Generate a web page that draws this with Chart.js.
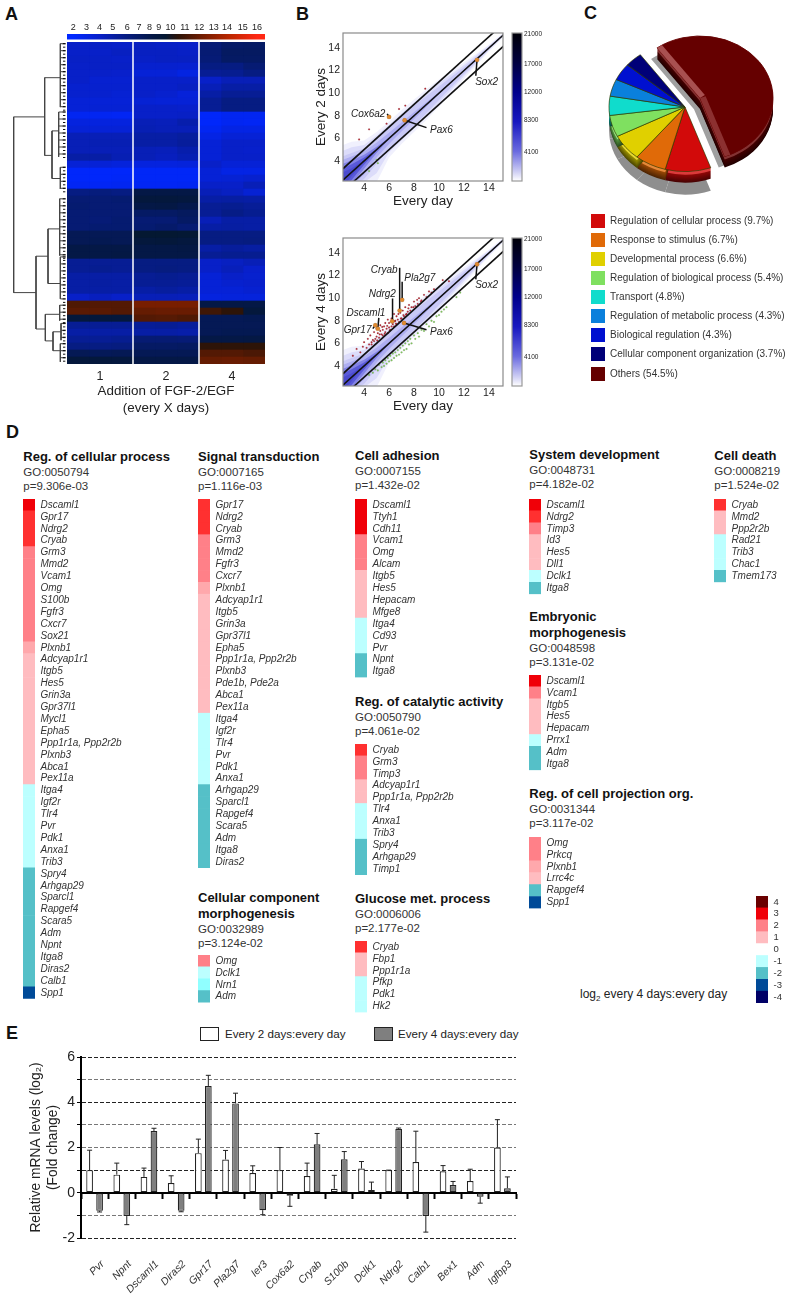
<!DOCTYPE html>
<html><head><meta charset="utf-8">
<script src="https://cdn.jsdelivr.net/npm/chart.js@4"></script>
<style>
html,body{margin:0;padding:0;background:#fff}
#page{position:relative;width:791px;height:1294px;overflow:hidden;font-family:"Liberation Sans",Arial,sans-serif;color:#222}
#page canvas{position:absolute;display:block}
.t{position:absolute;white-space:nowrap;line-height:16px}
.sw{position:absolute;box-sizing:border-box}
</style></head><body><div id="page"></div>
<script>
/* ---------- Panel A: heat map (log2 expression), rows x replicate columns ---------- */
const heatRows=[
[4,4.1,4,4.2,4.1,4,6.4,6.9,7],[4,4,4.2,4.2,4.2,4.1,6.5,7.1,7.1],[4.1,4.1,4,4.1,4.2,4.2,6.4,7,7],
[4,4.1,4.1,3.8,3.8,3.7,6,6,6.5],[4,4,3.9,3.5,3.5,3.1,5.5,5.6,6],[4,3.7,3.7,4,4,4,4,4.5,4.5],
[3.8,3.8,3.8,4,4,4.2,4.5,5,5],[3.8,3.8,3.6,4,3.8,3.4,5,5.5,5.5],[3.5,3.5,3.5,3.6,3.5,3.5,5.5,6,6],
[3.5,3.6,3.6,4,4,3.9,5.5,6,6],[2.5,2.5,2.4,4,4,4.1,2.2,2.5,2.5],[3.2,3.2,3.2,4.5,4.4,4.8,2.2,2.5,2.4],
[3.5,3.5,3.5,4.6,4.5,4.5,2.5,3,3],[4.5,4.5,4.5,5,5,5.2,3,3.5,3.5],[4.5,4.6,4.6,5,5,5.3,3.5,4,4],
[4.5,4.5,4.5,4.5,4.4,4.8,3.5,4,3.9],[5,5,4.6,4.5,4.3,4.6,3.5,4,4],[3.5,3.5,3.3,3.2,3.2,3.3,4,3.5,3.5],
[2.2,2.2,2.2,2.3,2.3,2.3,3.5,3,3],[2.2,2.2,2.3,2.3,2.3,2.3,3.5,3.6,3.8],[2.4,2.4,2.5,2.4,2.4,2.5,4,4,4.5],
[6,6.2,6,8,8,8,4.5,4.2,3.6],[6.5,6.5,6.6,8.5,8.5,8.4,5,5.1,5],[6.6,6.5,6.5,8,8.1,7.8,5.5,5.6,5.4],
[6.5,6.5,6.5,7,7,7.2,5.5,5.9,5.6],[6.5,6.4,6.6,6.5,6.5,7,4.5,5,5],[6.5,6.6,6.6,6.6,6.8,6.5,5,5.1,5],
[7.5,7.5,7.5,9,9,8.9,6,6,6],[7.5,7.6,7.5,8.5,8.6,8.4,6,6,6.1],[8,8,8,8,8,8.1,5,5.3,5.1],
[8,8,8.1,8,8,8,5.5,5.6,5.6],[5.5,5.5,5.5,6,6,6,4,4.2,4.5],[5.5,5.6,5.5,6,6.1,6,4,4.4,3.9],
[5,5,5,5.5,5.6,5.5,3.5,4,3.8],[5,5.1,5,5.5,5.5,5.4,3.5,3.8,3.9],[5,5,5,5,5.2,5,3.5,3.5,3.7],
[4,4.3,4,4.5,4.5,4.4,3.2,3.3,3.3],[10.9,11,11,12,12,12,8,8,8],[11.2,11.2,11,11.5,11.6,11.6,10.5,10,8.5],
[8.5,8.5,8.5,11,11.1,10.9,7.5,7.5,7.6],[5.5,5.5,5.5,5.4,5.5,5.3,7.5,7.5,7.5],[5,5,5,5,5,4.9,7.5,7.6,7.6],
[5.5,5.5,5.6,6.5,6.5,6.4,8,8,8.1],[6,6,6.1,7,7,7.1,10,10,10],[7.5,7.4,7.5,7.5,7.5,7.5,11,11,10.8],
[8.5,8.5,8.4,8,8,8,11.5,11.6,11.5]];
const columnTicks=[1.5,4.5,7.5];
const columnNames=['1','2','4'];
const barTickPositions=[2,3,4,5,6.1,7,7.8,8.5,9.4,10.5,11.6,12.7,13.7,14.9,16];
const barTickLabels=['2','3','4','5','6','7','8','9','10','11','12','13','14','15','16'];
/* dendrogram: [height, rowFrom, rowTo] verticals, and [fromHeight, row, toHeight] horizontals */
const treeV=[[160,10.7,35.8],[67,5.1,16.2],[20,.24,9.3],[45,12.7,19.5],[25,10,16.4],[20,17.9,21],[93,30.6,41],[57,26.7,34.5],[22,22.4,30.5],[20,30.7,36.7],[65,38.9,42.7],[22,37.6,39.8],[42,41.4,44.1],[18,40.2,42.6],[20,43.1,45.7]];
const treeH=[[160,10.7,67],[160,35.8,93],[67,5.1,20],[67,16.2,45],[45,12.7,25],[45,19.5,20],[93,30.6,57],[93,41,65],[57,26.7,22],[57,34.5,20],[65,38.9,22],[65,42.7,42],[42,41.4,18],[42,44.1,20]];
const leafClusters=[[20,.24,9.3],[25,10,16.4],[20,17.9,21],[22,22.4,30.5],[20,30.7,36.7],[22,37.6,39.8],[18,40.2,42.6],[20,43.1,45.7]];

/* ---------- Panel B: density bands and scatter ---------- */
const bandX=[2.3,3,4,5,6,7,8,9,10,11,12,13,14,15.2];
const bandLevels=[
 {c:'rgba(150,150,240,.14)',up:[3.1,2.7,1.8,1.55,1.5,1.5,1.45,1.35,1.2,1,.75,.5,.3,.2],dn:[1,1.2,2,2.9,1.7,1.5,1.45,1.35,1.2,1,.75,.5,.3,.2]},
 {c:'rgba(130,130,235,.18)',up:[2.6,2.2,1.4,1.25,1.2,1.2,1.15,1.05,.9,.7,.5,.35,.2,.1],dn:[1,1.2,1.9,2.1,1.25,1.2,1.15,1.05,.9,.7,.5,.35,.2,.1]},
 {c:'rgba(110,110,230,.2)',up:[2.1,1.7,1.1,1,.95,.95,.9,.75,.6,.45,.3,.2,.1,.05],dn:[1,1.2,1.6,1.25,1,.95,.9,.75,.6,.45,.3,.2,.1,.05]},
 {c:'rgba(70,70,220,.25)',up:[1.8,1.4,.85,.6,.5,.4,.3,.2,.1,.05,.02,.02,.02,.02],dn:[1,1.2,1.2,.7,.5,.4,.3,.2,.1,.05,.02,.02,.02,.02]},
 {c:'rgba(30,30,200,.45)',up:[1.45,1.05,.55,.25,.05,.02,.02,.02,.02,.02,.02,.02,.02,.02],dn:[1,1.05,.7,.3,.05,.02,.02,.02,.02,.02,.02,.02,.02,.02]},
 {c:'rgba(0,0,170,.7)',up:[1.05,.7,.3,.05,.02,.02,.02,.02,.02,.02,.02,.02,.02,.02],dn:[.9,.7,.35,.05,.02,.02,.02,.02,.02,.02,.02,.02,.02,.02]},
 {c:'rgba(0,0,110,.8)',up:[.7,.35,.05,.02,.02,.02,.02,.02,.02,.02,.02,.02,.02,.02],dn:[.6,.35,.05,.02,.02,.02,.02,.02,.02,.02,.02,.02,.02,.02]}
];
const guideOffsets=[1,0,-1];
const axisTicksB=[4,6,8,10,12,14];
const red2=[[4.4,6.8],[3.6,5.9],[5.8,7.3],[6.8,8.6],[8.9,10.4],[7.3,8.9]];
const green2=[[5,4.1],[4.4,3.1],[5.1,3.8]];
const red4=[[3.1,4.9],[3.4,5.5],[3.7,5.2],[3.9,5.7],[4,6.1],[4.2,5.6],[4.3,6.4],[4.4,5.9],[4.5,6.7],[4.6,6.1],[4.7,6.3],[4.8,7],[4.9,6.4],[5,6.6],[5,7.3],[5.1,6.9],[5.2,6.5],[5.3,7.1],[5.3,7.6],[5.4,6.8],[5.5,7.2],[5.5,6.7],[5.6,7.5],[5.7,7],[5.7,7.8],[5.8,7.3],[5.9,6.9],[5.9,8.1],[6,7.4],[6,7.8],[6.1,7.2],[6.2,8.2],[6.2,7.5],[6.3,7.7],[6.4,8.6],[6.4,7.5],[6.5,8],[6.6,7.7],[6.6,8.4],[6.7,8.1],[6.8,7.9],[6.9,8.7],[7,8.2],[7.1,8.9],[7.2,8.4],[7.3,9.2],[7.4,8.6],[7.5,8.8],[7.6,9.4],[7.7,8.9],[7.8,9.2],[8,9.7],[8.1,9.3],[8.3,9.5],[8.4,10],[8.6,9.8],[8.8,10.3],[9,10.1],[9.2,10.6],[9.4,10.5],[9.6,10.8],[10.3,11.6],[10.8,11.5],[4.6,5.9],[4.8,6.2],[5.05,6.25],[5.25,6.8],[5.45,7.45],[5.65,6.85],[5.85,7.55],[6.05,7.15],[6.25,7.85],[6.45,7.95],[6.55,7.75],[6.75,8.6],[6.95,8.2],[7.15,8.5],[7.35,8.55],[7.55,9.1],[7.95,9.2],[8.25,9.85],[8.55,9.7]];
const green4=[[4.4,3.2],[4.7,3.4],[4.9,3.7],[5.1,3.6],[5.2,4.1],[5.4,3.9],[5.5,4.3],[5.6,4],[5.7,4.5],[5.8,4.2],[5.9,4.7],[6,4.4],[6.1,4.9],[6.2,4.5],[6.3,5.1],[6.4,4.7],[6.5,5.2],[6.6,4.9],[6.7,5.4],[6.8,5],[6.9,5.6],[7,5.2],[7.1,5.8],[7.2,5.4],[7.3,6],[7.4,5.5],[7.5,6.2],[7.6,5.9],[7.7,6.4],[7.8,6],[8,6.7],[8.1,6.4],[8.3,6.9],[8.4,6.6],[8.6,7.2],[8.8,7.1],[9,7.7],[9.2,7.5],[9.4,8],[9.6,7.9],[9.8,8.4],[10,8.5],[10.2,8.8],[10.4,9],[10.6,9.2],[11.4,10.1],[11.7,10.5]];
const hiPoints2=[[6,7.9],[7.25,7.6],[13.05,12.95]];
const hiPoints4=[[4.9,7.6],[5.1,7.3],[6.25,7.95],[6.85,8.9],[7.05,9.85],[7.2,7.8],[13.05,13]];
const leaders2=[[[6,7.9],[5.85,8.17]],[[7.25,7.6],[9,6.95]],[[13.05,12.95],[12.95,11.54]]];
const leaders4=[[[5.1,7.3],[5.18,8.25]],[[4.9,7.6],[4.7,7.3]],[[6.25,7.95],[6.28,9.97]],[[6.85,8.9],[6.85,12.69]],[[7.05,9.85],[7.05,11.45]],[[7.2,7.8],[9,7.2]],[[13.05,13],[12.95,11.66]]];
const labels2=[['Cox6a2',5.71,8.17,'right'],['Pax6',9.28,6.75,'left'],['Sox2',12.9,10.95,'left']];
const labels4=[['Cryab',6.68,12.49,'right'],['Pla2g7',7.22,11.75,'left'],['Ndrg2',6.55,10.39,'right'],['Dscaml1',5.71,8.67,'right'],['Gpr17',4.59,7.16,'right'],['Pax6',9.28,7,'left'],['Sox2',12.9,11.15,'left']];
const colorbarTickLevels=[.197,.411,.599,.79,.989];
const colorbarTickNames=['4100','8300','12000','17000','21000'];

/* ---------- Panel C: pie ---------- */
const pieNames=['Regulation of cellular process','Response to stimulus','Developmental process','Regulation of biological process','Transport','Regulation of metabolic process','Biological regulation','Cellular component organization','Others'];
const pieShares=[9.7,6.7,6.6,5.4,4.8,4.3,4.3,3.7,54.5];
const pieColors=['#d20a0a','#e06a08','#e0d000','#7fe060','#10dccc','#0a80dc','#0010d0','#000078','#650000'];

/* ---------- Panel D: gene lists and log2 ratio levels ---------- */
const goLists=[
 {title:['Reg. of cellular process'],go:'GO:0050794',p:'p=9.306e-03',x:23.3,gy:498.5,ty:457,
  genes:['Dscaml1','Gpr17','Ndrg2','Cryab','Grm3','Mmd2','Vcam1','Omg','S100b','Fgfr3','Cxcr7','Sox21','Plxnb1','Adcyap1r1','Itgb5','Hes5','Grin3a','Gpr37l1','Mycl1','Epha5','Ppp1r1a, Ppp2r2b','Plxnb3','Abca1','Pex11a','Itga4','Igf2r','Tlr4','Pvr','Pdk1','Anxa1','Trib3','Spry4','Arhgap29','Sparcl1','Rapgef4','Scara5','Adm','Npnt','Itga8','Diras2','Calb1','Spp1'],
  levels:[3,2.5,2.5,2.5,2,2,2,2,2,2,2,2,1.5,1,1,1,1,1,1,1,1,1,1,1,-1,-1,-1,-1,-1,-1,-1,-2,-2,-2,-2,-2,-2,-2,-2,-2,-2,-3]},
 {title:['Signal transduction'],go:'GO:0007165',p:'p=1.116e-03',x:198,gy:498.5,ty:457,
  genes:['Gpr17','Ndrg2','Cryab','Grm3','Mmd2','Fgfr3','Cxcr7','Plxnb1','Adcyap1r1','Itgb5','Grin3a','Gpr37l1','Epha5','Ppp1r1a, Ppp2r2b','Plxnb3','Pde1b, Pde2a','Abca1','Pex11a','Itga4','Igf2r','Tlr4','Pvr','Pdk1','Anxa1','Arhgap29','Sparcl1','Rapgef4','Scara5','Adm','Itga8','Diras2'],
  levels:[2.5,2.5,2.5,2,2,2,2,1.5,1,1,1,1,1,1,1,1,1,1,-1,-1,-1,-1,-1,-1,-2,-2,-2,-2,-2,-2,-2]},
 {title:['Cellular component','morphogenesis'],go:'GO:0032989',p:'p=3.124e-02',x:198,gy:955,ty:898,
  genes:['Omg','Dclk1','Nrn1','Adm'],levels:[2,-1,-1.5,-2]},
 {title:['Cell adhesion'],go:'GO:0007155',p:'p=1.432e-02',x:355,gy:498.7,ty:456,
  genes:['Dscaml1','Ttyh1','Cdh11','Vcam1','Omg','Alcam','Itgb5','Hes5','Hepacam','Mfge8','Itga4','Cd93','Pvr','Npnt','Itga8'],
  levels:[3,3,3,2,2,2,1,1,1,1,-1,-1,-1,-2,-2]},
 {title:['Reg. of catalytic activity'],go:'GO:0050790',p:'p=4.061e-02',x:355,gy:743.7,ty:702,
  genes:['Cryab','Grm3','Timp3','Adcyap1r1','Ppp1r1a, Ppp2r2b','Tlr4','Anxa1','Trib3','Spry4','Arhgap29','Timp1'],
  levels:[2.5,2,2,1,1,-1,-1,-1,-2,-2,-2]},
 {title:['Glucose met. process'],go:'GO:0006006',p:'p=2.177e-02',x:355,gy:941,ty:899,
  genes:['Cryab','Fbp1','Ppp1r1a','Pfkp','Pdk1','Hk2'],levels:[2.5,1,1,-1,-1,-1]},
 {title:['System development'],go:'GO:0048731',p:'p=4.182e-02',x:529.3,gy:498.7,ty:455,
  genes:['Dscaml1','Ndrg2','Timp3','Id3','Hes5','Dll1','Dclk1','Itga8'],levels:[3,2.5,2,1,1,1,-1,-2]},
 {title:['Embryonic','morphogenesis'],go:'GO:0048598',p:'p=3.131e-02',x:529.3,gy:674.7,ty:617,
  genes:['Dscaml1','Vcam1','Itgb5','Hes5','Hepacam','Prrx1','Adm','Itga8'],levels:[3,2,1,1,1,-1,-2,-2]},
 {title:['Reg. of cell projection org.'],go:'GO:0031344',p:'p=3.117e-02',x:529.3,gy:836.7,ty:794,
  genes:['Omg','Prkcq','Plxnb1','Lrrc4c','Rapgef4','Spp1'],levels:[2,2,1.5,1,-2,-3]},
 {title:['Cell death'],go:'GO:0008219',p:'p=1.524e-02',x:714.3,gy:498.7,ty:456,
  genes:['Cryab','Mmd2','Ppp2r2b','Rad21','Trib3','Chac1','Tmem173'],levels:[2.5,1,1,-1,-1,-1,-2]}
];
const levelColors={'4':'#6a0000','3':'#f00008','2.5':'#ff3030','2':'#ff8088','1.5':'#ffa8ac','1':'#ffbcc0','0':'#ffffff','-1':'#bcffff','-1.5':'#90ffff','-2':'#55c0c8','-3':'#004a98','-4':'#000066'};
const scaleLevels=[4,3,2,1,0,-1,-2,-3,-4];

/* ---------- Panel E: qPCR bars ---------- */
const qpcrGenes=['Pvr','Npnt','Dscaml1','Diras2','Gpr17','Pla2g7','Ier3','Cox6a2','Cryab','S100b','Dclk1','Ndrg2','Calb1','Bex1','Adm','Igfbp3'];
const every2=[1,.8,.7,.43,1.75,1.47,.87,1,.74,.18,1.07,1,1.36,.95,.52,2];
const every2Err=[1.88,1.31,1.09,.75,2.37,1.87,1.19,2,1.31,.77,1.38,1,2.72,1.2,1.04,3.23];
const every4=[-.8,-1.03,2.73,-.8,4.72,3.95,-.77,-.13,2.14,1.48,.12,2.82,-1.03,.34,-.18,.2];
const every4Err=[-.85,-1.41,2.85,-.84,5.19,4.4,-.97,-.6,2.62,1.82,.47,2.86,-1.74,.5,-.46,.7];
const darkGrid=[6,4,1,-2];

/* ---------- helpers ---------- */
const FF='"Liberation Sans",Arial,sans-serif';
Chart.defaults.font.family=FF;Chart.defaults.color='#222';Chart.defaults.animation=false;
Chart.defaults.responsive=false;Chart.defaults.plugins.legend.display=false;Chart.defaults.plugins.tooltip.enabled=false;
Chart.defaults.layout.autoPadding=false;
const page=document.getElementById('page');
function mk(x,y,w,h){const c=document.createElement('canvas');c.width=w;c.height=h;c.style.left=x+'px';c.style.top=y+'px';c.style.width=w+'px';c.style.height=h+'px';page.appendChild(c);return c;}
function txt(x,yc,s,css){const d=document.createElement('div');d.className='t';d.style.left=x+'px';d.style.top=(yc-8)+'px';d.style.cssText+=css||'';d.innerHTML=s;page.appendChild(d);return d;}
function swatch(x,y,w,h,css){const d=document.createElement('div');d.className='sw';d.style.cssText=`left:${x}px;top:${y}px;width:${w}px;height:${h}px;${css}`;page.appendChild(d);}
const fitW=v=>s=>{s.width=v;s.paddingTop=0;s.paddingBottom=0;},fitH=v=>s=>{s.height=v;s.paddingLeft=0;s.paddingRight=0;};
const noGrid={display:false,drawTicks:false};
const frame=col=>({id:'frame',afterDraw(c){const a=c.chartArea,x=c.ctx;x.save();x.strokeStyle=col;x.lineWidth=1.2;x.strokeRect(a.left,a.top,a.right-a.left,a.bottom-a.top);x.restore();}});

/* panel letters */
[['A',5,14],['B',296,14],['C',584,13],['D',6,432],['E',6,1033]].forEach(([s,x,y])=>txt(x,y,s,'font:bold 18px '+FF+';color:#111;line-height:16px'));

/* ---------- A ---------- */
const heatStops=[[2,0,40,255],[4,8,32,200],[6,6,28,130],[8,4,24,70],[9,4,24,50],[10,45,20,8],[12,120,30,0],[14,190,40,0],[16,255,40,20]];
function heatColor(v){for(let i=1;i<heatStops.length;i++){const a=heatStops[i-1],b=heatStops[i];if(v<=b[0]){const t=Math.max(0,(v-a[0])/(b[0]-a[0]));return `rgb(${[1,2,3].map(k=>Math.round(a[k]+(b[k]-a[k])*t)).join(',')})`;}}return 'rgb(255,40,20)';}
new Chart(mk(60,20,215,400),{type:'bar',
 data:{labels:heatRows.map((r,i)=>i),datasets:heatRows[0].map((_,c)=>({data:heatRows.map(()=>1),backgroundColor:heatRows.map(r=>heatColor(r[c])),barPercentage:1,categoryPercentage:1}))},
 options:{indexAxis:'y',layout:{padding:{left:7,right:10}},
  scales:{
   y:{stacked:true,display:false},
   x:{type:'linear',stacked:true,min:0,max:9,position:'bottom',afterFit:fitH(56),afterBuildTicks:s=>{s.ticks=columnTicks.map(v=>({value:v}))},
      grid:noGrid,border:{display:false},ticks:{padding:5,font:{size:12.5},maxRotation:0,autoSkip:false,callback:(v,i)=>columnNames[i]},
      title:{display:true,text:['Addition of FGF-2/EGF','(every X days)'],font:{size:13.4,lineHeight:17/13.4},padding:{top:0,bottom:3.5},color:'#222'}},
   x2:{type:'linear',axis:'x',position:'top',min:1.52,max:16.6,afterFit:fitH(22),afterBuildTicks:s=>{s.ticks=barTickPositions.map(v=>({value:v}))},
      grid:noGrid,border:{display:false},ticks:{padding:9,font:{size:9},maxRotation:0,autoSkip:false,callback:(v,i)=>barTickLabels[i]}}
  }},
 plugins:[{id:'gapsAndBar',afterDatasetsDraw(c){const x=c.ctx,a=c.chartArea,s=c.scales.x;x.save();x.fillStyle='#fff';
    [3,6].forEach(v=>x.fillRect(s.getPixelForValue(v)-.75,a.top,1.5,a.bottom-a.top));
    const g=x.createLinearGradient(a.left,0,a.right,0),s2=c.scales.x2;
    for(let v=2;v<=16;v++)g.addColorStop((s2.getPixelForValue(v)-a.left)/(a.right-a.left),heatColor(v));
    x.fillStyle=g;x.fillRect(a.left,a.top-8,a.right-a.left,5.5);x.restore();}}]
});
const treeSets=[];
const treeStyle={borderColor:'#444',borderWidth:1,pointRadius:0,showLine:true};
treeV.forEach(([d,a,b])=>treeSets.push({...treeStyle,data:[{x:d,y:a},{x:d,y:b}]}));
treeH.forEach(([d,r,e])=>treeSets.push({...treeStyle,data:[{x:d,y:r},{x:e,y:r}]}));
leafClusters.forEach(([d,a,b])=>{for(let r=a;r<=b;r+=1){treeSets.push({...treeStyle,data:[{x:d,y:r},{x:12,y:r}]});
  treeSets.push({...treeStyle,borderColor:'#111',borderWidth:1.4,data:[{x:13,y:r},{x:4,y:r}]});
  treeSets.push({...treeStyle,borderColor:'#111',borderWidth:1,data:[{x:12,y:r+.5},{x:5,y:r+.5}]});}});
new Chart(mk(0,42,67,322),{type:'scatter',data:{datasets:treeSets},options:{scales:{x:{display:false,reverse:true,min:0,max:201},y:{display:false,reverse:true,min:0,max:46}}}});

/* ---------- B ---------- */
function density(){const sets=[];bandLevels.forEach(l=>{
   sets.push({type:'line',data:bandX.map((x,i)=>({x,y:x+l.up[i]})),borderWidth:0,pointRadius:0,backgroundColor:l.c,fill:'+1',order:5});
   sets.push({type:'line',data:bandX.map((x,i)=>({x,y:x-l.dn[i]})),borderWidth:0,pointRadius:0,fill:false,order:5});});return sets;}
function plotB(top,yTitle,red,green,hi,leaders,labels){
 const sets=density();
 sets.push({data:red.map(([x,y])=>({x,y})),backgroundColor:'#c0303c',pointRadius:.9,order:4});
 sets.push({data:green.map(([x,y])=>({x,y})),backgroundColor:'#86d060',pointRadius:.9,order:4});
 guideOffsets.forEach(k=>sets.push({type:'line',data:[{x:2.3,y:2.3+k},{x:15.2,y:15.2+k}],borderColor:'#111',borderWidth:1.6,pointRadius:0,fill:false,order:3}));
 leaders.forEach(l=>sets.push({type:'line',data:l.map(([x,y])=>({x,y})),borderColor:'#111',borderWidth:1.5,pointRadius:0,fill:false,order:2}));
 sets.push({data:hi.map(([x,y])=>({x,y})),backgroundColor:'#e08a30',pointRadius:2.2,order:1});
 new Chart(mk(305,top-8,205,192),{type:'scatter',data:{datasets:sets},
  options:{layout:{padding:{top:8,right:7}},
   scales:{x:{type:'linear',min:2.31,max:15.13,afterFit:fitH(36),afterBuildTicks:s=>{s.ticks=axisTicksB.map(v=>({value:v}))},grid:noGrid,border:{display:false},ticks:{padding:1,font:{size:10.5},maxRotation:0},
      title:{display:true,text:'Every day',font:{size:13.5},padding:{top:0,bottom:8},color:'#222'}},
     y:{type:'linear',min:2.22,max:15.33,afterFit:fitW(38),afterBuildTicks:s=>{s.ticks=axisTicksB.map(v=>({value:v}))},grid:noGrid,border:{display:false},ticks:{padding:3,font:{size:10.5}},
      title:{display:true,text:yTitle,font:{size:13.5},padding:{top:8,bottom:0},color:'#222'}}}},
  plugins:[frame('#8a8a8a'),{id:'geneLabels',afterDraw(c){const x=c.ctx;x.save();x.font='italic 10px '+FF;x.fillStyle='#222';x.textBaseline='middle';
    labels.forEach(([t,dx,dy,al])=>{x.textAlign=al;x.fillText(t,c.scales.x.getPixelForValue(dx),c.scales.y.getPixelForValue(dy));});x.restore();}}]});
 new Chart(mk(505,top-8,45,160),{type:'bar',data:{labels:[''],datasets:[{data:[1],barPercentage:1,categoryPercentage:1,backgroundColor:ctx=>{const a=ctx.chart.chartArea;if(!a)return '#00f';const g=ctx.chart.ctx.createLinearGradient(0,a.bottom,0,a.top);
     [[0,'#ffffff'],[.06,'#d0d0f4'],[.2,'#6a6ae0'],[.4,'#1818c0'],[.6,'#00008c'],[.8,'#000040'],[1,'#000008']].forEach(([p,k])=>g.addColorStop(p,k));return g;}}]},
  options:{layout:{padding:{left:7,top:8,bottom:4}},scales:{x:{display:false},y:{min:0,max:1,position:'right',afterFit:fitW(28),afterBuildTicks:s=>{s.ticks=colorbarTickLevels.map(v=>({value:v}))},grid:noGrid,border:{display:false},
     ticks:{padding:2,font:{size:6.5},callback:(v,i)=>colorbarTickNames[i]}}}},plugins:[frame('#999')]});
}
plotB(33,'Every 2 days',red2,green2,hiPoints2,leaders2,labels2);
plotB(237.7,'Every 4 days',red4,green4,hiPoints4,leaders4,labels4);

/* ---------- C ---------- */
function mix(hex,t,w){const n=parseInt(hex.slice(1),16),r=n>>16,g=n>>8&255,b=n&255,m=w?255:0;return `rgb(${Math.round(r+(m-r)*t)},${Math.round(g+(m-g)*t)},${Math.round(b+(m-b)*t)})`;}
const squash=.85,rimDepth=11,explode=[15,-10.5];
function sector(x,arc){x.beginPath();x.moveTo(arc.x,arc.y);x.arc(arc.x,arc.y,arc.outerRadius,arc.startAngle,arc.endAngle);x.closePath();}
const pie3d={id:'pie3d',
  afterDatasetsUpdate(c){const a=c.getDatasetMeta(0).data[0];a.x+=explode[0];a.y+=explode[1];a.outerRadius-=3;},
  beforeDatasetsDraw(c){const x=c.ctx,arcs=c.getDatasetMeta(0).data,pivot=arcs[1];x.save();
   x.translate(pivot.x,pivot.y);x.scale(1,squash);x.translate(-pivot.x,-pivot.y);
   x.save();x.translate(0,(rimDepth+12)/squash);x.fillStyle='#8e8e8e';arcs.slice(1).forEach(a=>{sector(x,a);x.fill();});x.restore();
   x.save();x.translate(-6,13);x.fillStyle='#a0a0a0';sector(x,arcs[0]);x.fill();x.restore();
   arcs.forEach((a,i)=>{const col=c.data.datasets[0].backgroundColor[i];for(let k=rimDepth;k>=1;k--){const t=k/rimDepth;x.save();x.translate(0,k/squash);
      x.fillStyle=t<.3?mix(col,.2,true):mix(col,.15+.5*t,false);sector(x,a);x.fill();x.restore();}});},
  afterDatasetsDraw(c){const x=c.ctx,a=c.getDatasetMeta(0).data[0];
   [[a.startAngle,1,'#a85050'],[a.endAngle,-1,'#8c3030']].forEach(([ang,s,col])=>{const ex=a.x+Math.cos(ang)*a.outerRadius,ey=a.y+Math.sin(ang)*a.outerRadius,nx=-Math.sin(ang)*s*6,ny=Math.cos(ang)*s*6;
     x.beginPath();x.moveTo(a.x,a.y);x.lineTo(ex,ey);x.lineTo(ex+nx,ey+ny);x.lineTo(a.x+nx,a.y+ny);x.closePath();x.fillStyle=col;x.fill();});
   x.restore();}};
const pieOrder=[8,0,1,2,3,4,5,6,7];
new Chart(mk(585,7,206,200),{type:'pie',data:{labels:pieOrder.map(i=>pieNames[i]),datasets:[{data:pieOrder.map(i=>pieShares[i]),backgroundColor:pieOrder.map(i=>pieColors[i]),
   borderColor:pieOrder.map(i=>i===8?'#650000':'rgba(50,60,0,.75)'),borderWidth:1,radius:76,clip:false}]},
  options:{rotation:-36,layout:{padding:{right:6}}},plugins:[pie3d]});
pieNames.forEach((n,i)=>{const y=214+i*19.07;swatch(590.7,y,14.3,14,'background:'+pieColors[i]);
  txt(610,y+7,`${n} (${pieShares[i]}%)`,`font:10px ${FF};color:#333;line-height:16px`);});

/* ---------- D ---------- */
const CELL=11.9;
function strip(x,y,w,names,cols,font){const h=Math.round(names.length*CELL*100)/100;
 const cv=mk(x,y,w,Math.ceil(h));
 new Chart(cv,{type:'bar',data:{labels:names,datasets:[{data:names.map(()=>1),backgroundColor:cols,barPercentage:1,categoryPercentage:1}]},
  options:{indexAxis:'y',layout:{padding:{bottom:Math.ceil(h)-h}},scales:{x:{display:false,min:0,max:1},
    y:{position:'right',afterFit:fitW(w-12),grid:noGrid,border:{display:false},ticks:{autoSkip:false,padding:5.5,font:font,color:'#333'}}}}});
}
goLists.forEach(l=>{let y=l.ty;
 l.title.forEach((t,i)=>{txt(l.x,y+i*16,t,`font:bold 13px ${FF};color:#111;line-height:16px`);});
 y+=(l.title.length-1)*15.5+15;
 txt(l.x,y,l.go,`font:11.5px ${FF};color:#333;line-height:16px`);
 txt(l.x,y+14.3,l.p,`font:11.5px ${FF};color:#333;line-height:16px`);
 strip(l.x,l.gy,150,l.genes,l.levels.map(v=>levelColors[v]),{size:10,style:'italic'});
});
strip(756,896,35,scaleLevels.map(String),scaleLevels.map(v=>levelColors[v]),{size:9.5});
txt(580,994,'log<sub style="font-size:8px;line-height:0">2</sub> every 4 days:every day',`font:12px ${FF};color:#222;line-height:16px`);

/* ---------- E ---------- */
swatch(200,1027,19,14,'background:#fff;border:1.5px solid #222');
txt(225,1034,'Every 2 days:every day',`font:11.6px ${FF};color:#222;line-height:16px`);
swatch(374,1027,19,14,'background:#7f7f7f;border:1.5px solid #222');
txt(398,1034,'Every 4 days:every day',`font:11.6px ${FF};color:#222;line-height:16px`);
const errBars={id:'errBars',afterDatasetsDraw(c){const x=c.ctx,y=c.scales.y;x.save();x.strokeStyle='#222';x.lineWidth=1;
  [every2Err,every4Err].forEach((errs,d)=>{c.getDatasetMeta(d).data.forEach((b,i)=>{const p0=b.y,p1=y.getPixelForValue(errs[i]);
    x.beginPath();x.moveTo(b.x,p0);x.lineTo(b.x,p1);x.moveTo(b.x-2.5,p1);x.lineTo(b.x+2.5,p1);x.stroke();});});x.restore();}};
new Chart(mk(0,1020,540,274),{type:'bar',
 data:{labels:qpcrGenes,datasets:[
  {label:'Every 2 days:every day',data:every2,backgroundColor:'#fff',borderColor:'#222',borderWidth:1.2,borderSkipped:false,categoryPercentage:.735,barPercentage:.67},
  {label:'Every 4 days:every day',data:every4,backgroundColor:'#7f7f7f',borderColor:'#222',borderWidth:1.2,borderSkipped:false,categoryPercentage:.735,barPercentage:.67}]},
 options:{layout:{padding:{top:37,right:24}},
  scales:{
   x:{position:'bottom',afterFit:fitH(56),grid:noGrid,border:{display:false},ticks:{autoSkip:false,minRotation:45,maxRotation:45,padding:20,labelOffset:8,font:{size:10.5,style:'italic'},color:'#333'}},
   x0:{type:'category',labels:qpcrGenes,axis:'x',position:{y:0},z:1,offset:true,grid:{drawOnChartArea:false,drawTicks:true,tickLength:5,tickWidth:2,tickColor:'#000'},border:{display:true,color:'#000',width:2},ticks:{display:false}},
   y:{min:-2,max:6,afterFit:fitW(81),ticks:{stepSize:1,padding:2,font:{size:14},color:'#222',callback:v=>v%2===0?String(v):''},
      grid:{color:c=>c.tick&&darkGrid.includes(c.tick.value)?'#222':'#777',lineWidth:1,tickColor:'#000',tickLength:4,tickBorderDash:[]},border:{color:'#000',width:2,dash:[4,2]},
      title:{display:true,text:['Relative mRNA levels (log₂)','(Fold change)'],font:{size:13.8,lineHeight:17/13.8},padding:{top:28,bottom:0},color:'#222'}}
  }},plugins:[errBars]});
</script></body></html>
